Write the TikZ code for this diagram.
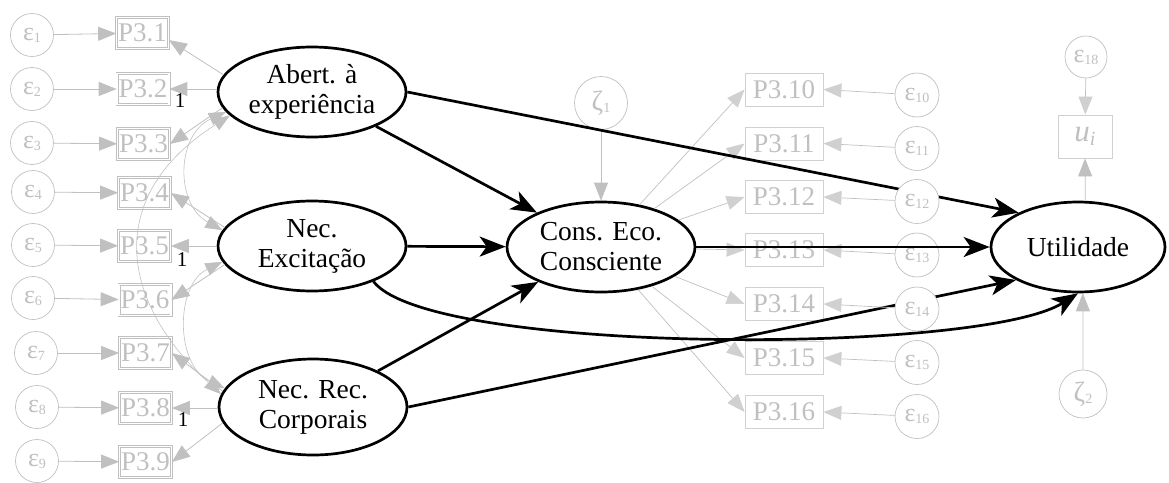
\documentclass[tikz,border=0pt]{standalone}
\usepackage{fontspec}
\setmainfont{Liberation Serif}
\usetikzlibrary{shapes.geometric,arrows.meta}
\definecolor{lg}{RGB}{192,192,192}
\definecolor{lgt}{RGB}{192,192,192}
\definecolor{rg}{RGB}{208,208,208}
\newcommand\myeps[1]{ε\raisebox{-2pt}{\fontsize{14}{14}\selectfont #1}}
\newcommand\myzeta[1]{{\fontsize{28}{28}\selectfont ζ}\raisebox{-2pt}{\fontsize{14}{14}\selectfont #1}}
\begin{document}
\begin{tikzpicture}[x=1pt,y=-1pt,
  lat/.style={ellipse, draw=black, line width=2.7pt, minimum width=188pt, minimum height=90pt, inner sep=0pt, align=center, font=\fontsize{27.5}{30}\selectfont},
  obsL/.style={rectangle, draw=lg, double=white, double distance=1.6pt, line width=0.7pt, minimum width=52pt, minimum height=31pt, inner sep=0pt, text=lgt, font=\fontsize{27}{27}\selectfont},
  obsR/.style={rectangle, draw=rg, line width=0.8pt, minimum width=78pt, minimum height=33pt, inner sep=0pt, text=lgt, font=\fontsize{27}{27}\selectfont},
  err/.style={circle, draw=lg, line width=0.7pt, minimum size=43pt, inner sep=0pt, text=lgt, fill=white, font=\fontsize{26}{26}\selectfont},
  garr/.style={draw=lg, line width=0.8pt, -{Triangle[length=18pt,width=14pt]}},
  rarr/.style={draw=lg, line width=0.7pt, -{Triangle[length=18pt,width=14pt,color=rg]}},
  cov/.style={draw=lg, line width=0.6pt, {Triangle[length=17pt,width=13pt]}-{Triangle[length=17pt,width=13pt]}},
  barr/.style={draw=black, line width=2.7pt, -{Stealth[length=26pt,width=20pt,inset=7pt]}},
  one/.style={font=\fontsize{21}{21}\selectfont, inner sep=0pt}
]
\useasboundingbox (0,0) rectangle (1169,482);

% latent variables
\node[lat] (abert) at (312,92) {Abert. à\\experiência};
\node[lat] (exc) at (312,246) {Nec.\\Excitação};
\node[lat, minimum height=96pt] (rec) at (313,407) {Nec. Rec.\\Corporais};
\node[lat] (cons) at (601,247) {Cons. Eco.\\Consciente};
\node[lat, minimum width=174pt] (util) at (1078,247) {Utilidade};

% left errors
\node[err] (e1) at (32,35) {\myeps{1}};
\node[err] (e2) at (32,89) {\myeps{2}};
\node[err] (e3) at (32,143) {\myeps{3}};
\node[err] (e4) at (33,192) {\myeps{4}};
\node[err] (e5) at (33,245) {\myeps{5}};
\node[err] (e6) at (33,298) {\myeps{6}};
\node[err] (e7) at (36,353) {\myeps{7}};
\node[err] (e8) at (37,407) {\myeps{8}};
\node[err] (e9) at (37,461) {\myeps{9}};

% left indicators
\node[obsL] (p1) at (142.5,33) {P3.1};
\node[obsL] (p2) at (143,89) {P3.2};
\node[obsL] (p3) at (143.5,144) {P3.3};
\node[obsL] (p4) at (144.5,193) {P3.4};
\node[obsL] (p5) at (144.5,246) {P3.5};
\node[obsL] (p6) at (145,300) {P3.6};
\node[obsL] (p7) at (145.5,353) {P3.7};
\node[obsL] (p8) at (145.5,408) {P3.8};
\node[obsL] (p9) at (145.5,462) {P3.9};

% right indicators
\node[obsR] (p10) at (784,89.5) {P3.10};
\node[obsR] (p11) at (784,143.5) {P3.11};
\node[obsR] (p12) at (784,197) {P3.12};
\node[obsR] (p13) at (784,250) {P3.13};
\node[obsR] (p14) at (784,304) {P3.14};
\node[obsR] (p15) at (784,358) {P3.15};
\node[obsR] (p16) at (784,412) {P3.16};

% right errors (except 12 and 14, drawn later on top)
\node[err, minimum size=44pt] (e10) at (917,95) {\myeps{10}};
\node[err, minimum size=44pt] (e11) at (917,148.5) {\myeps{11}};
\node[err, minimum size=44pt] (e13) at (917,255) {\myeps{13}};
\node[err, minimum size=44pt] (e15) at (917,362.5) {\myeps{15}};
\node[err, minimum size=44pt] (e16) at (917,416.5) {\myeps{16}};

% disturbances and u_i
\node[err, minimum size=53pt] (z1) at (601,103) {\myzeta{1}};
\node[err, minimum size=48pt] (z2) at (1083,394) {\myzeta{2}};
\node[err, minimum size=42pt] (e18) at (1086,57) {\myeps{18}};
\node[rectangle, draw=rg, line width=0.8pt, minimum width=54pt, minimum height=43pt, inner sep=0pt, text=lgt, font=\fontsize{31}{31}\selectfont] (u) at (1085,136.5) {\textit{u}\raisebox{-4pt}{\fontsize{20}{20}\selectfont\textit{i}}};

% left error arrows
\foreach \i in {1,...,9} { \draw[garr] (e\i) -- (p\i); }

% loadings left
\draw[garr] (abert.169) -- (p1.-15);
\draw[garr] (abert.west |- p2) -- (p2.east);
\draw[garr] (abert.190) -- (p3.east);
\draw[garr] (exc.168) -- (p4.east);
\draw[garr] (exc.west |- p5) -- (p5.east);
\draw[garr] (exc.192) -- (p6.east);
\draw[garr] (rec.170) -- (p7.east);
\draw[garr] (rec.west |- p8) -- (p8.east);
\draw[garr] (rec.190) -- (p9.east);

\node[one] (l1) at (180,101) {1};
\node[one] (l2) at (182,260) {1};
\node[one] (l3) at (183,420) {1};

% covariances
\draw[cov] (abert.193) .. controls (176,135) and (175,204) .. (exc.170);
\draw[cov] (abert.196) .. controls (105,195) and (118,300) .. (rec.172);
\draw[cov] (exc.190) .. controls (175,285) and (175,365) .. (rec.168);

% loadings right
\foreach \i in {10,...,16} { \draw[rarr] (cons) -- (p\i.west); }
\foreach \i in {10,11,13,15,16} { \draw[rarr] (e\i) -- (p\i.east); }

\draw[garr] (z1) -- (cons);
\draw[rarr] (e18) -- (u);
\draw[garr] (util.81) -- (u.south);
\draw[garr] (z2) -- (util.-84);

% structural paths
\draw[barr] (abert) -- (cons);
\draw[barr] (abert.east) -- (util.150);
\draw[barr] (exc) -- (cons);
\draw[barr] (exc.-30) .. controls (430,355) and (980,355) .. (util.-90);
\draw[barr] (rec) -- (cons);
\draw[barr] (rec.east) -- (util.208);
\draw[barr] (cons) -- (util);

% errors drawn over the paths
\node[err, minimum size=44pt] (e12) at (917,201.5) {\myeps{12}};
\node[err, minimum size=44pt] (e14) at (917,309) {\myeps{14}};
\draw[rarr] (e12) -- (p12.east);
\draw[rarr] (e14) -- (p14.east);
\end{tikzpicture}
\end{document}
